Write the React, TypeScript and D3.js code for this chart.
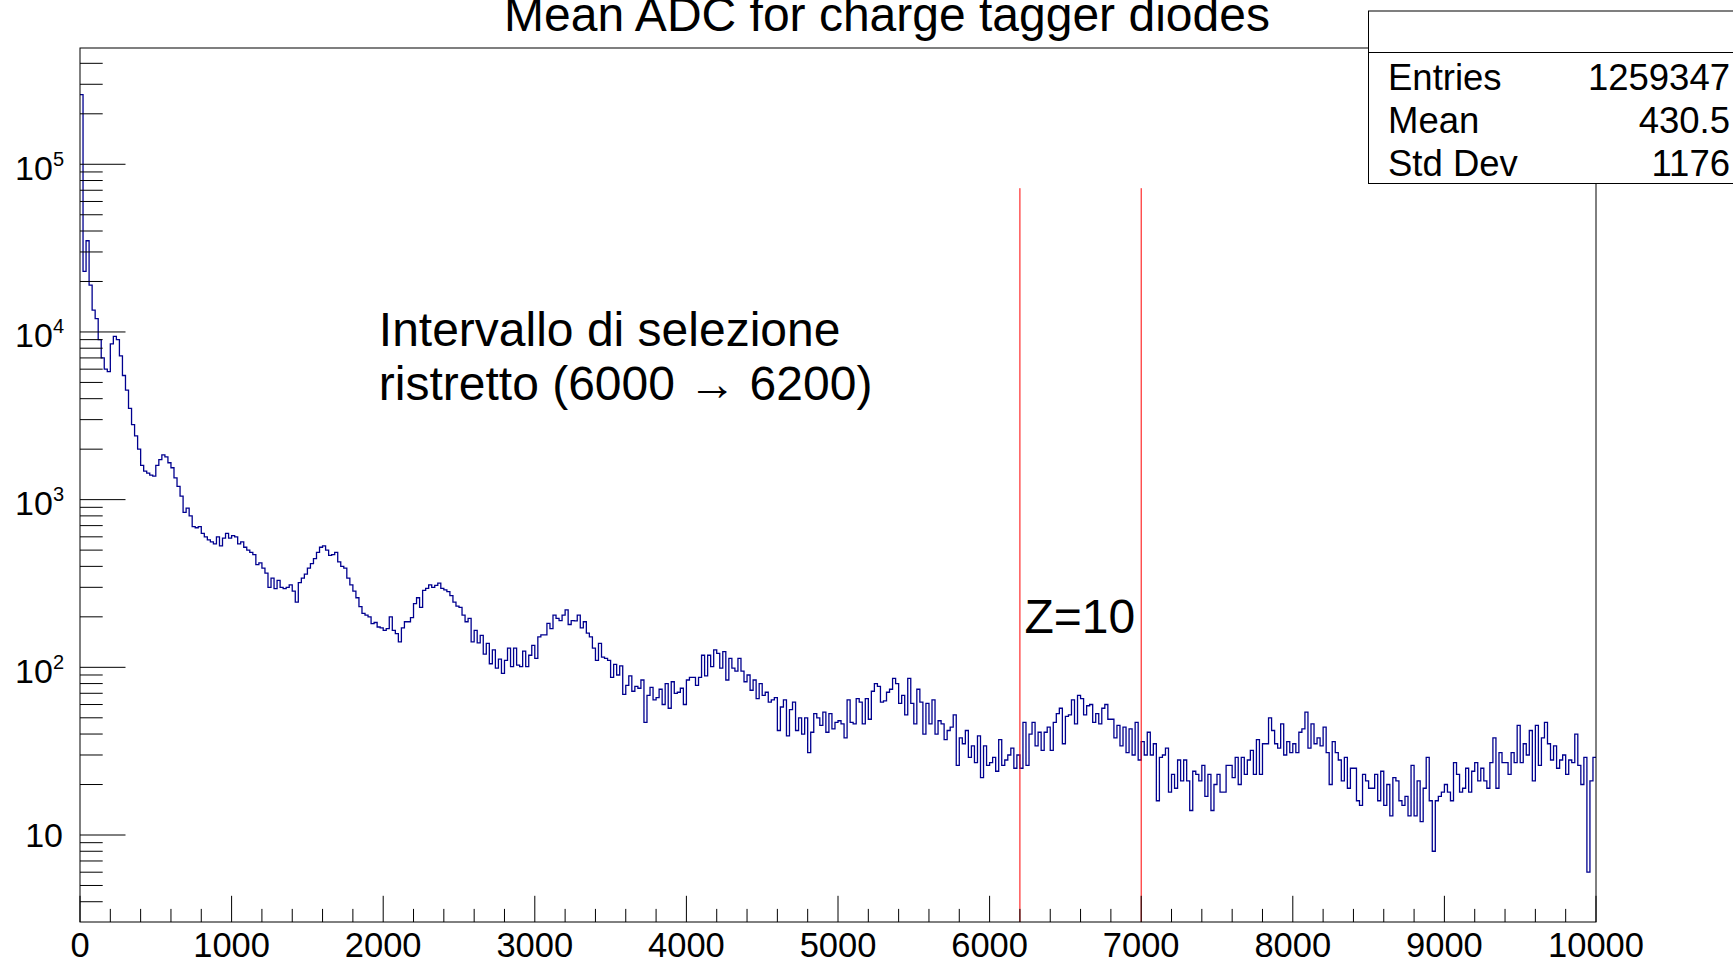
import React from 'react';
import * as d3 from 'd3';

// ---------- data ----------
const binWidth = 20;
const xDomain = [0, 10000];
const yDomain = [3.028, 493700];
const counts: number[] = [
  // 0 - 1000
  260000, 23000, 35000, 19000, 13500, 12000, 9000, 7000, 6000, 5800,
  8500, 9400, 9000, 7200, 5500, 4500, 3500, 2800, 2400, 2000,
  1600, 1480, 1440, 1400, 1380, 1600, 1730, 1850, 1800, 1660,
  1550, 1350, 1200, 1050, 840, 890, 800, 690, 680, 690,
  630, 600, 575, 560, 545, 600, 530, 590, 630, 590,
  // 1000 - 2000
  610, 600, 545, 560, 520, 500, 485, 470, 410, 420,
  390, 365, 300, 340, 295, 330, 300, 295, 300, 310,
  285, 245, 320, 340, 360, 390, 415, 445, 485, 520,
  530, 500, 465, 470, 485, 425, 400, 390, 340, 310,
  285, 260, 230, 210, 205, 200, 182, 185, 174, 172,
  // 2000 - 3000
  166, 170, 200, 166, 159, 142, 172, 187, 187, 198,
  240, 260, 228, 288, 296, 310, 300, 308, 318, 296,
  290, 283, 268, 245, 232, 228, 205, 187, 196, 142,
  166, 140, 155, 120, 139, 105, 127, 99, 112, 92,
  110, 130, 101, 130, 103, 101, 125, 101, 118, 135,
  // 3000 - 4000
  113, 152, 156, 156, 183, 170, 205, 196, 190, 205,
  220, 180, 190, 189, 205, 172, 187, 160, 152, 130,
  110, 139, 115, 113, 110, 87, 104, 90, 102, 69,
  78, 89, 72, 77, 75, 84, 47, 68, 76, 64,
  66, 74, 60, 80, 57, 82, 70, 71, 75, 60,
  // 4000 - 5000
  84, 87, 87, 78, 87, 118, 89, 118, 101, 127,
  121, 99, 124, 84, 113, 99, 95, 113, 95, 82,
  90, 73, 84, 65, 80, 68, 71, 62, 64, 66,
  42, 58, 64, 39, 56, 62, 42, 50, 40, 50,
  31, 41, 53, 50, 45, 54, 41, 53, 43, 47,
  // 5000 - 6000
  48, 46, 38, 64, 47, 46, 65, 62, 46, 65,
  49, 72, 80, 77, 62, 63, 71, 74, 86, 80,
  61, 68, 52, 86, 61, 46, 74, 62, 40, 61,
  46, 64, 40, 48, 46, 37, 42, 44, 52, 26,
  38, 35, 42, 29, 34, 27, 39, 22, 34, 26,
  // 6000 - 7000
  27, 29, 24, 37, 26, 28, 30, 33, 25, 30,
  25, 47, 26, 40, 47, 34, 41, 32, 41, 44,
  32, 47, 53, 57, 35, 51, 52, 64, 46, 68,
  65, 52, 59, 60, 47, 53, 46, 57, 60, 49,
  49, 38, 45, 34, 44, 31, 43, 30, 47, 28,
  // 7000 - 8000
  36, 30, 41, 30, 35, 16, 29, 30, 33, 18,
  23, 19, 28, 21, 28, 21, 14, 24, 23, 21,
  26, 17, 23, 14, 20, 23, 18, 18, 26, 26,
  22, 29, 20, 29, 23, 28, 32, 23, 37, 23,
  35, 35, 50, 42, 35, 33, 46, 30, 36, 31,
  // 8000 - 9000
  35, 31, 41, 43, 54, 33, 46, 35, 38, 34,
  44, 31, 20, 36, 31, 28, 21, 29, 19, 25,
  25, 16, 15, 23, 21, 19, 19, 23, 16, 24,
  15, 20, 13, 22, 21, 16, 15, 17, 13, 26,
  13, 21, 12, 19, 29, 16, 8, 16, 17, 18,
  // 9000 - 10000
  20, 18, 16, 27, 23, 18, 19, 25, 18, 24,
  27, 21, 25, 21, 19, 27, 38, 19, 31, 27,
  27, 23, 31, 27, 45, 27, 35, 30, 42, 21,
  45, 26, 38, 47, 35, 28, 34, 25, 28, 30,
  23, 28, 27, 40, 26, 20, 29, 6, 21, 29,
];
const xMajorTicks = [0, 1000, 2000, 3000, 4000, 5000, 6000, 7000, 8000, 9000, 10000];
const xMinorStep = 200;
const yMajorTicks = [10, 100, 1000, 10000, 100000];
const yExponents = [1, 2, 3, 4, 5];
const statNames = ['Entries', 'Mean', 'Std Dev'];
const statValues = ['1259347', '430.5', '1176'];
const redLinesX = [6200, 7000];
const redLineTop = 72000;
const title = 'Mean ADC for charge tagger diodes';
const noteLines = ['Intervallo di selezione', 'ristretto (6000 \u2192 6200)'];
const zLabel = 'Z=10';
const zLabelPos = { x: 6230 };
const notePos = { x: 1971 };

// ---------- layout ----------
const W = 1733, H = 962;
const L = 80, R = 1596, T = 48, B = 922;
const FONT = '"Liberation Sans", Arial, Helvetica, sans-serif';

export default function App() {
  const x = d3.scaleLinear().domain(xDomain).range([L, R]);
  const y = d3.scaleLog().domain(yDomain).range([B, T]);

  const pts: [number, number][] = [];
  counts.forEach((c, i) => {
    pts.push([i * binWidth, c]);
    pts.push([(i + 1) * binWidth, c]);
  });
  const line = d3.line<[number, number]>().x(d => x(d[0])).y(d => y(d[1]));
  const path = line(pts) || '';

  const minorX: number[] = d3.range(xDomain[0], xDomain[1] + 1, xMinorStep).filter(v => v % 1000 !== 0);
  const minorY: number[] = [];
  for (let e = 0; e <= 5; e++) {
    for (let k = 2; k <= 9; k++) {
      const v = k * Math.pow(10, e);
      if (v > yDomain[0] && v < yDomain[1]) minorY.push(v);
    }
  }
  const majLenY = 45.5, minLenY = 22.7, majLenX = 26.2, minLenX = 13.1;

  return (
    <svg width={W} height={H} style={{ position: 'absolute', left: 0, top: 0, background: '#fff' }}
      fontFamily={FONT}>
      <rect x={0} y={0} width={W} height={H} fill="#fff" />
      {/* title */}
      <text x={887} y={31} fontSize={48} textAnchor="middle" fill="#000">{title}</text>
      {/* histogram */}
      <path d={path} fill="none" stroke="#00008f" strokeWidth={1.3} />
      {/* red lines */}
      {redLinesX.map((v, i) => (
        <line key={'r' + i} x1={x(v)} x2={x(v)} y1={y(redLineTop)} y2={y(yDomain[0])} stroke="#ff0000" strokeWidth={1} />
      ))}
      {/* frame */}
      <rect x={L} y={T} width={R - L} height={B - T} fill="none" stroke="#000" strokeWidth={1} />
      {/* x ticks */}
      {xMajorTicks.map(v => (
        <line key={'xm' + v} x1={x(v)} x2={x(v)} y1={B} y2={B - majLenX} stroke="#000" strokeWidth={1} />
      ))}
      {minorX.map(v => (
        <line key={'xn' + v} x1={x(v)} x2={x(v)} y1={B} y2={B - minLenX} stroke="#000" strokeWidth={1} />
      ))}
      {xMajorTicks.map(v => (
        <text key={'xl' + v} x={x(v)} y={957} fontSize={34.5} textAnchor="middle" fill="#000">{v}</text>
      ))}
      {/* y ticks */}
      {yMajorTicks.map(v => (
        <line key={'ym' + v} x1={L} x2={L + majLenY} y1={y(v)} y2={y(v)} stroke="#000" strokeWidth={1} />
      ))}
      {minorY.map(v => (
        <line key={'yn' + v} x1={L} x2={L + minLenY} y1={y(v)} y2={y(v)} stroke="#000" strokeWidth={1} />
      ))}
      {yMajorTicks.map((v, i) => (
        yExponents[i] === 1 ? (
          <text key={'yl' + v} x={63} y={y(v) + 12} fontSize={34} textAnchor="end" fill="#000">10</text>
        ) : (
          <text key={'yl' + v} x={64} y={y(v) + 15.5} fontSize={34} textAnchor="end" fill="#000">
            10<tspan fontSize={20} dy={-14}>{yExponents[i]}</tspan>
          </text>
        )
      ))}
      {/* annotations */}
      <text x={x(notePos.x)} y={346} fontSize={48} fill="#000">{noteLines[0]}</text>
      <text x={x(notePos.x)} y={400} fontSize={48} fill="#000">{noteLines[1]}</text>
      <text x={x(zLabelPos.x)} y={633} fontSize={48} fill="#000">{zLabel}</text>
      {/* stats box */}
      <rect x={1368.5} y={11} width={W - 1368.5 + 5} height={172.5} fill="#fff" stroke="#000" strokeWidth={1} />
      <line x1={1368.5} x2={W} y1={52.5} y2={52.5} stroke="#000" strokeWidth={1} />
      {statNames.map((n, i) => (
        <text key={'sn' + i} x={1388} y={89.5 + i * 43} fontSize={36.5} fill="#000">{n}</text>
      ))}
      {statValues.map((v, i) => (
        <text key={'sv' + i} x={1730} y={89.5 + i * 43} fontSize={36.5} textAnchor="end" fill="#000">{v}</text>
      ))}
    </svg>
  );
}
